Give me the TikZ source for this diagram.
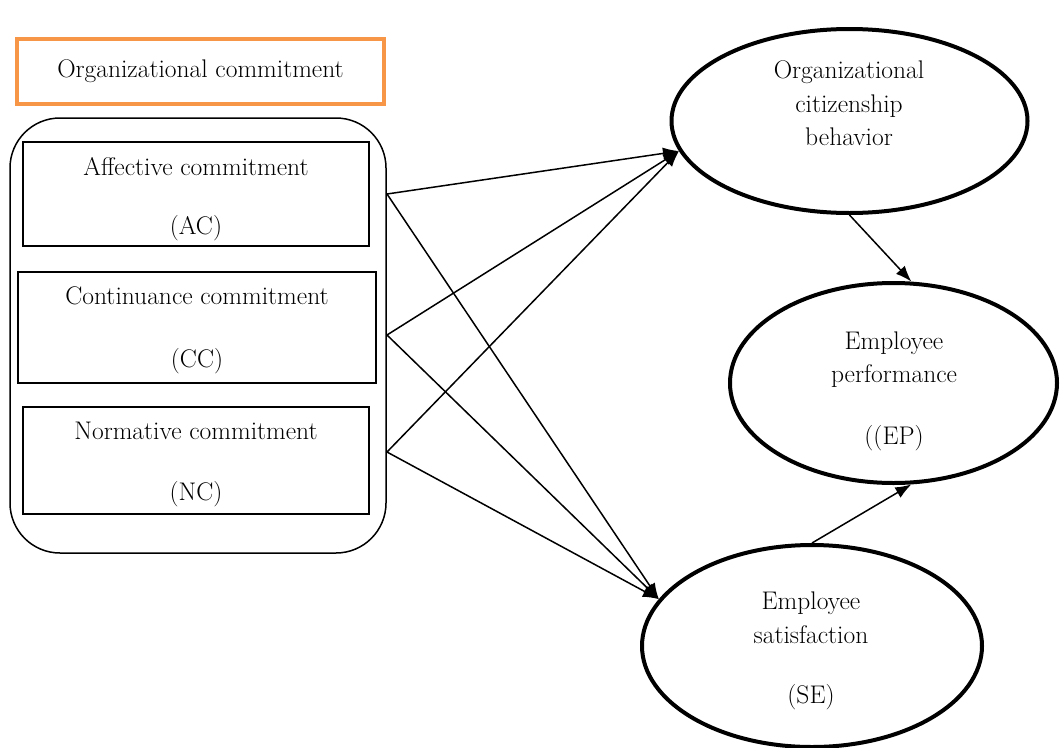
\documentclass[tikz,border=0pt]{standalone}
\usetikzlibrary{shapes.geometric,arrows.meta,positioning}
\definecolor{boxorange}{RGB}{247,150,70}
\tikzstyle{construct}=[draw,ellipse,line width=4pt,inner sep=0pt]
\tikzstyle{dimension}=[draw,rectangle,line width=1.5pt,inner sep=0pt]
\tikzstyle{caption}=[align=center,inner sep=0pt]
\tikzstyle{path}=[->,line width=1.5pt]

\begin{document}
\begin{tikzpicture}[x=1pt, y=-1pt, >={Latex[length=16pt,width=12pt]},
    font=\fontsize{25.5}{33.5}\selectfont]
  \useasboundingbox (0,0) rectangle (1060,747);

  \node[draw=boxorange, line width=4pt, minimum width=367pt, minimum height=65pt]
    (title) at (200.5,71.5) {Organizational commitment};
  \node[draw, rounded corners=50pt, line width=1.5pt, minimum width=376pt,
    minimum height=435pt] (group) at (198,335.5) {};

  \node[dimension, minimum width=346pt, minimum height=104pt] (ac) at (196,194) {};
  \node[dimension, minimum width=358pt, minimum height=111pt] (cc) at (197,327.5) {};
  \node[dimension, minimum width=346pt, minimum height=107pt] (nc) at (196,460.5) {};

  \node[caption, yshift=-5pt] (actext) at (ac) {Affective commitment\\[26pt](AC)};
  \node[caption, yshift=-3pt] (cctext) at (cc) {Continuance commitment\\[29pt](CC)};
  \node[caption, yshift=-4pt] (nctext) at (nc) {Normative commitment\\[27pt](NC)};

  \node[construct, minimum width=356pt, minimum height=184pt] (ocb) at (849.5,121) {};
  \node[construct, minimum width=327pt, minimum height=200pt] (ep) at (893.5,383) {};
  \node[construct, minimum width=340pt, minimum height=202pt] (se) at (812,646) {};

  \node[caption] (ocbtext) at (849,103.5) {Organizational\\citizenship\\behavior};
  \node[caption] (eptext) at (894,391) {Employee\\performance\\[28pt]((EP)};
  \node[caption] (setext) at (811,651) {Employee\\satisfaction\\[27pt](SE)};

  \coordinate (acout) at (387,194);
  \coordinate (ccout) at (387,335);
  \coordinate (ncout) at (387,452);

  \draw[path] (acout) -- (ocb.190);
  \draw[path] (acout) -- (se.163);
  \draw[path] (ccout) -- (ocb.190);
  \draw[path] (ccout) -- (se.163);
  \draw[path] (ncout) -- (ocb.190);
  \draw[path] (ncout) -- (se.163);

  \draw[path] (ocb.south) -- (ep.80);
  \draw[path] (se.north) -- (ep.280);
\end{tikzpicture}
\end{document}
